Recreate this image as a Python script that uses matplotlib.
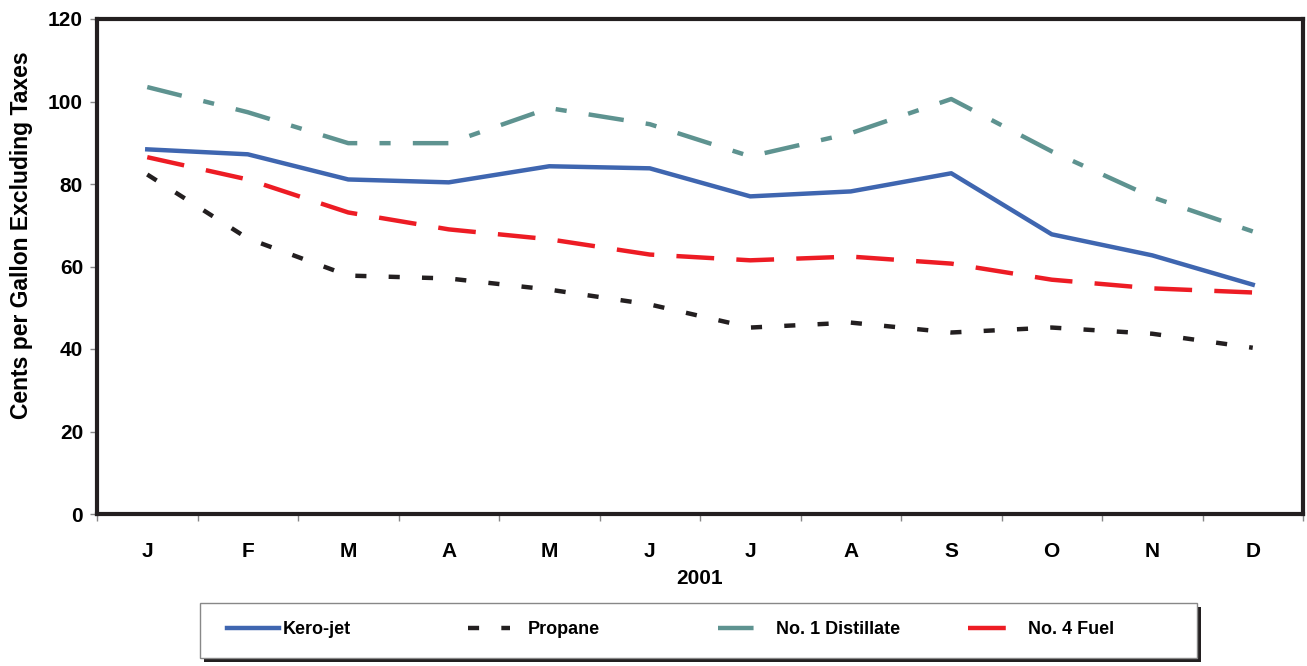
import matplotlib.pyplot as plt
from matplotlib.patches import Rectangle

plt.rcParams['font.family'] = ['Liberation Sans', 'DejaVu Sans']
plt.rcParams['font.weight'] = 'bold'
plt.rcParams['axes.labelweight'] = 'bold'

meses = ['J', 'F', 'M', 'A', 'M', 'J', 'J', 'A', 'S', 'O', 'N', 'D']
kero_jet = [88.4, 87.2, 81.1, 80.4, 84.3, 83.8, 77.0, 78.2, 82.6, 67.8, 62.7, 55.6]
propano = [82.3, 66.8, 57.8, 57.1, 54.4, 50.8, 45.2, 46.4, 44.0, 45.2, 43.7, 40.3]
destilado_1 = [103.5, 97.4, 89.9, 89.9, 98.4, 94.5, 86.7, 92.3, 100.6, 87.9, 76.8, 68.5]
combustivel_4 = [86.5, 81.1, 73.1, 69.0, 66.6, 62.9, 61.5, 62.4, 60.7, 56.8, 54.7, 53.7]

W, H = 1307, 666
fig = plt.figure(figsize=(W / 100, H / 100), dpi=100)
ax = fig.add_axes([97 / W, 1 - 514 / H, (1303 - 97) / W, (514 - 19) / H])

x = list(range(len(meses)))
l1, = ax.plot(x, kero_jet, color='#3f66b0', lw=3.2, label='Kero-jet')
l2, = ax.plot(x, propano, color='#231f20', lw=3.2, dashes=(2.5, 5), label='Propane')
l3, = ax.plot(x, destilado_1, color='#5e9390', lw=3.2, dashes=(8, 5, 2.5, 5), label='No. 1 Distillate')
l4, = ax.plot(x, combustivel_4, color='#ed1c24', lw=3.2, dashes=(8.5, 5), label='No. 4 Fuel')

ax.set_xlim(-0.5, 11.5)
ax.set_ylim(0, 120)
ax.set_yticks(range(0, 121, 20))
ax.set_xticks([i - 0.5 for i in range(13)], minor=False)
ax.set_xticklabels([])
ax.set_xticks(x, minor=True)
ax.set_xticklabels(meses, minor=True, fontsize=15)
ax.tick_params(axis='x', which='major', length=5, width=1, color='#888888', direction='out')
ax.tick_params(axis='x', which='minor', length=0, pad=20)
ax.tick_params(axis='y', length=5, width=1, color='#888888', labelsize=15, pad=5)

for lado in ax.spines.values():
    lado.set_linewidth(3)
    lado.set_color('#231f20')

ax.set_xlabel('2001', fontsize=15, labelpad=6)
ax.set_ylabel('Cents per Gallon Excluding Taxes', fontsize=16.5)
ax.yaxis.set_label_coords(-0.053, 0.563)

# caixa da legenda com sombra
fig.patches.append(Rectangle((204 / W, 1 - 662 / H), 997 / W, 55 / H,
                             transform=fig.transFigure, facecolor='#231f20',
                             edgecolor='none', zorder=1))
fig.patches.append(Rectangle((200 / W, 1 - 658 / H), 997 / W, 55 / H,
                             transform=fig.transFigure, facecolor='white',
                             edgecolor='#888888', lw=1, zorder=2))

# uma legenda por série para acertar as posições
entradas = [
    (l1, 227, 2.9, 0.2),
    (l2, 468, 2.3, 1.0),
    (l3, 718, 2.9, 0.33),
    (l4, 968, 2.1, 1.2),
]
for linha, x0, comp, espaco in entradas:
    fig.legend([linha], [linha.get_label()], loc='center left',
               bbox_to_anchor=(x0 / W, 1 - 630 / H), frameon=False,
               fontsize=13, handlelength=comp, handletextpad=espaco,
               borderpad=0, borderaxespad=0)

fig.savefig('out.png', dpi=100)
